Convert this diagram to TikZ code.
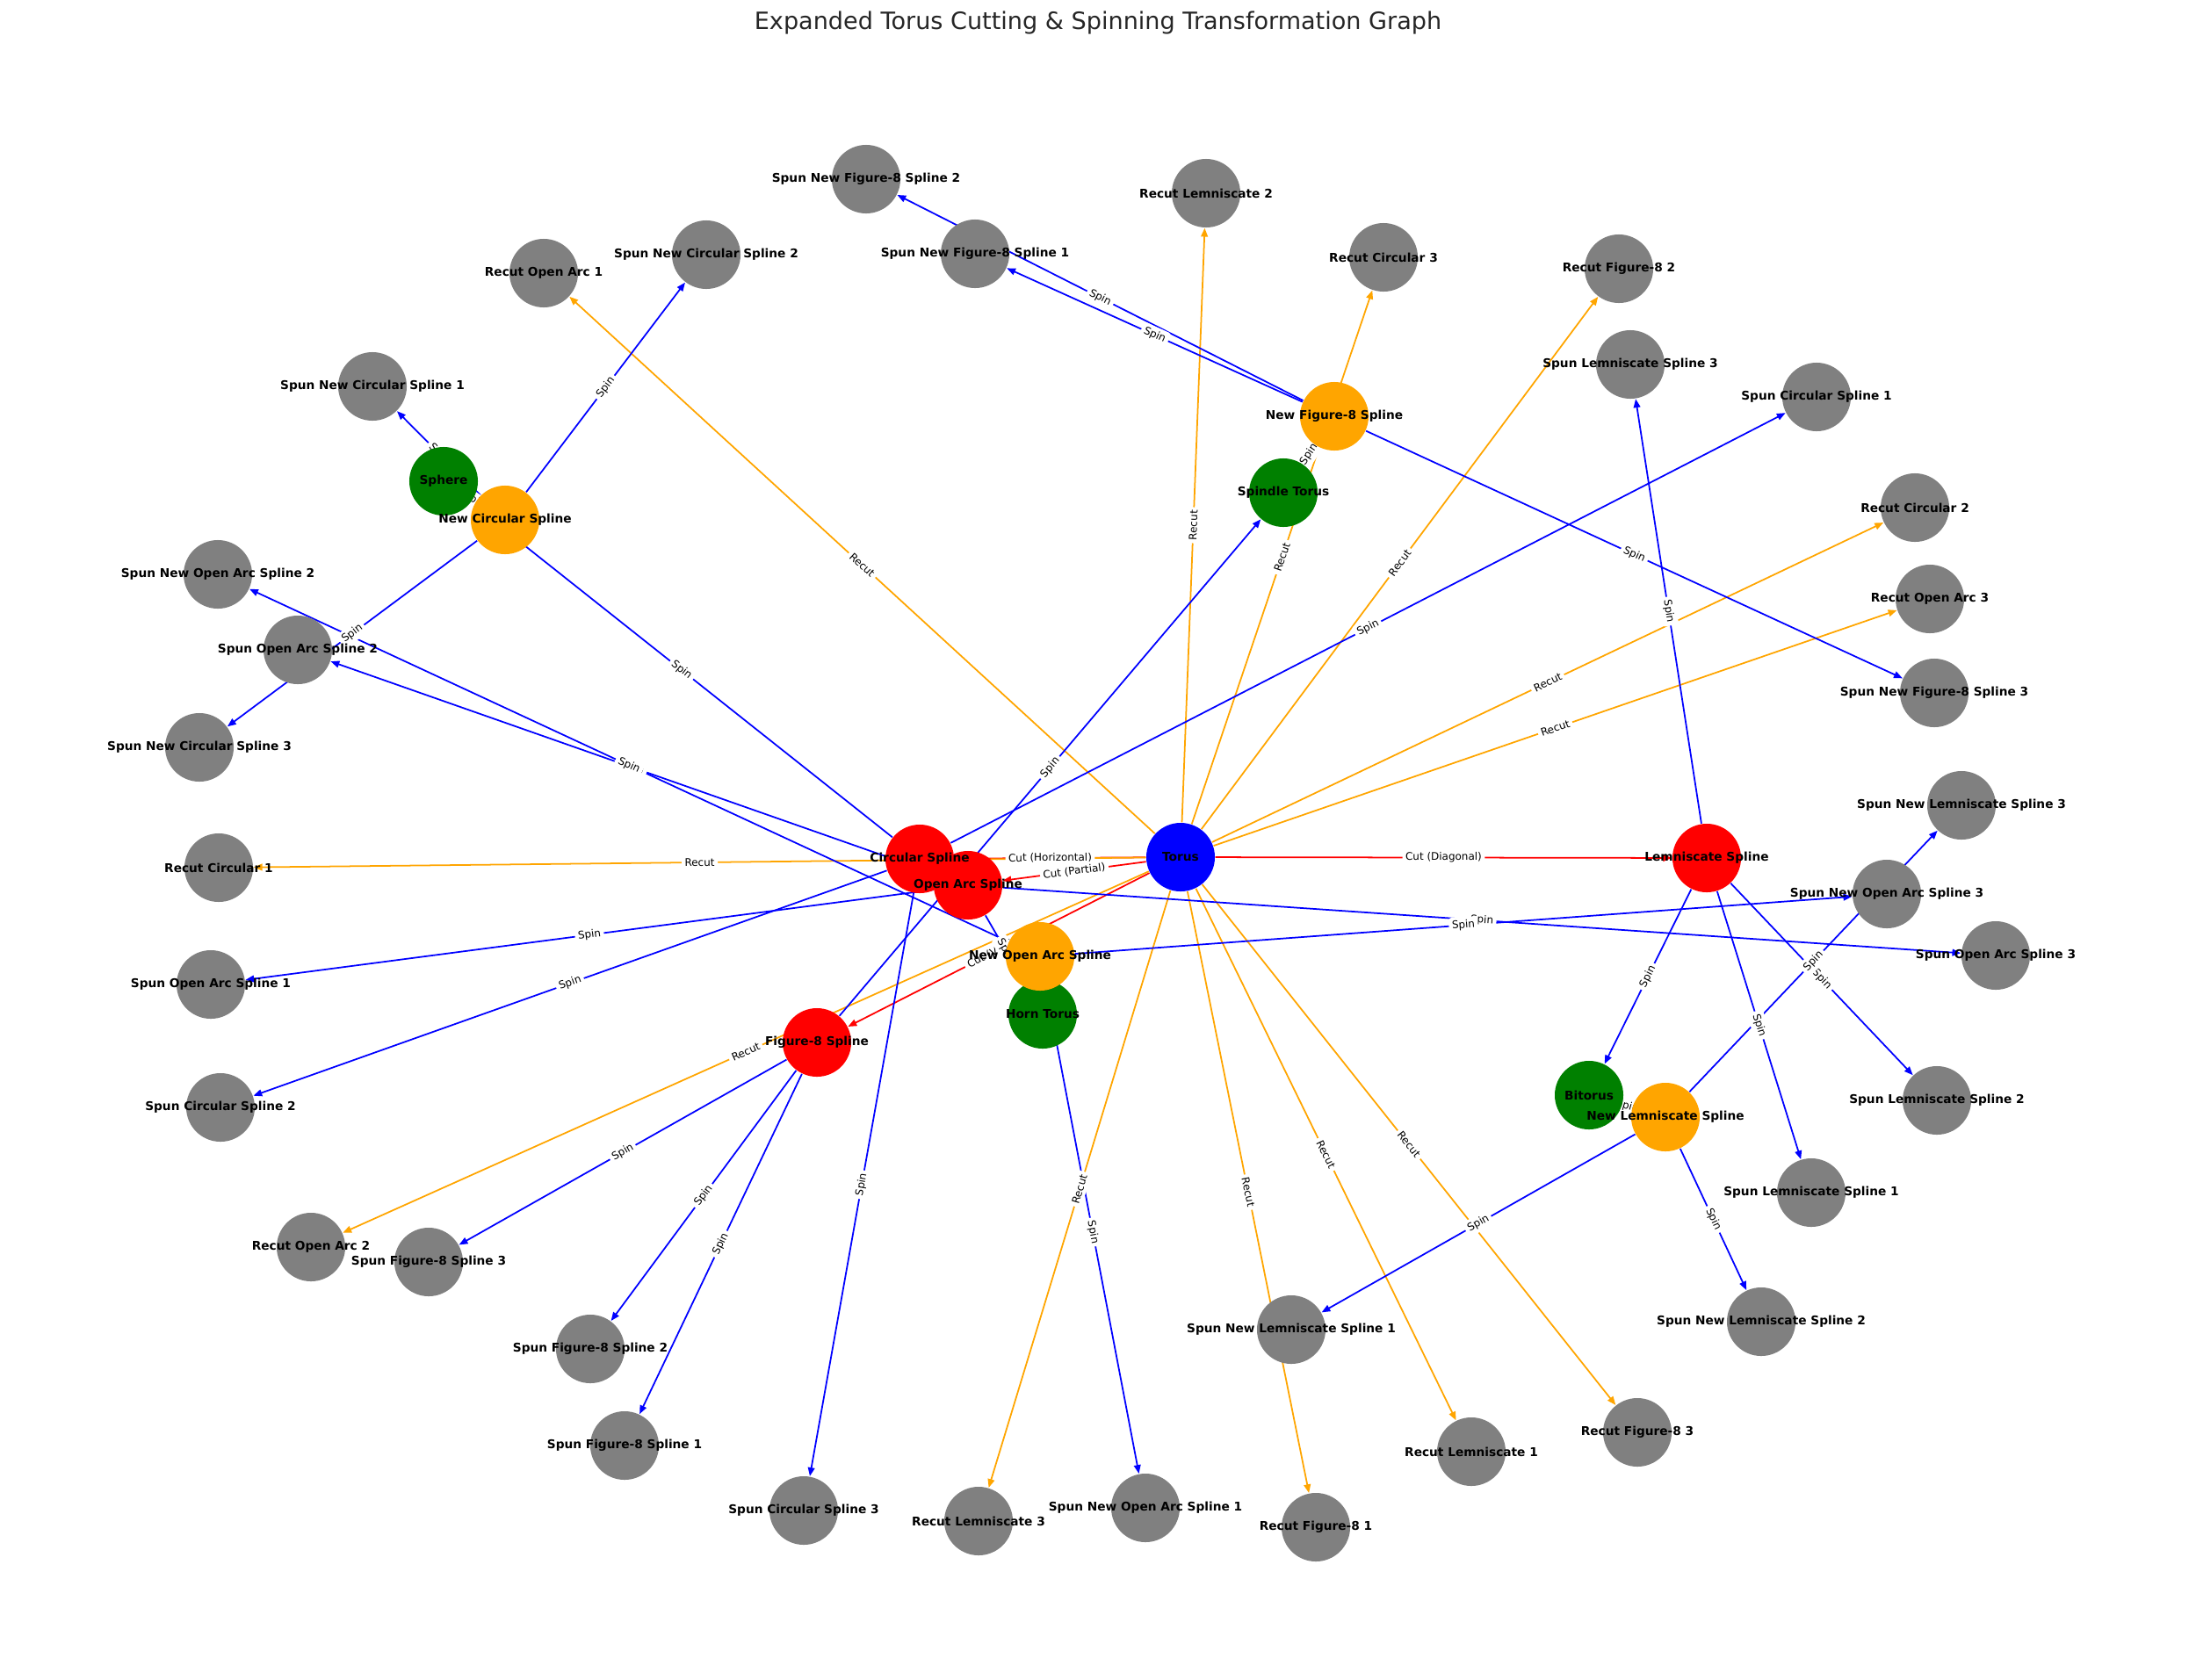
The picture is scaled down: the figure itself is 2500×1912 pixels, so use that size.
\documentclass[tikz,border=0pt]{standalone}
\usepackage{fontspec}
\setmainfont{DejaVu Sans}
\usetikzlibrary{arrows.meta}
\definecolor{mplorange}{RGB}{255,165,0}
\definecolor{mplgreen}{RGB}{0,128,0}
\definecolor{mplgray}{RGB}{128,128,128}
\pgfdeclarelayer{edges}
\pgfdeclarelayer{elabels}
\pgfdeclarelayer{front}
\pgfsetlayers{edges,elabels,main,front}
\begin{document}
\begin{tikzpicture}[x=0.01cm,y=-0.01cm]
        % Styles
        \tikzstyle{vertex}=[circle,minimum size=0.78cm,inner sep=0pt]
        \tikzstyle{vertex text}=[inner sep=0pt,font=\fontsize{3.9}{4.7}\selectfont\bfseries]
        \tikzstyle{edge text}=[midway,sloped,fill=white,rounded corners=0.8pt,inner sep=1pt,font=\fontsize{3.4}{4}\selectfont]
        \tikzstyle{tip}=[-{Triangle[length=2.8pt,width=2.2pt]},line width=0.5pt]
        \tikzstyle{cut line}=[tip,red]
        \tikzstyle{recut line}=[tip,mplorange]
        \tikzstyle{spin line}=[tip,blue]
        \useasboundingbox (0,0) rectangle (2500,1912);
        %title
        \node[anchor=base,text=black!85,font=\fontsize{7.7}{9}\selectfont] (title) at (1250,33)
            {Expanded Torus Cutting \& Spinning Transformation Graph};
        %nodes
        \foreach \n/\x/\y/\c/\t in {torus/1344/976/blue/Torus,
            circ/1047/978/red/Circular Spline, oarc/1102/1008/red/Open Arc Spline,
            lemn/1943/977/red/Lemniscate Spline, fig8/930/1187/red/Figure-8 Spline,
            sphere/505/548/mplgreen/Sphere, horn/1187/1155/mplgreen/Horn Torus,
            spindle/1461/561/mplgreen/Spindle Torus, bitorus/1809/1247/mplgreen/Bitorus,
            ncirc/575/592/mplorange/New Circular Spline, noarc/1184/1089/mplorange/New Open Arc Spline,
            nfig8/1519/474/mplorange/New Figure-8 Spline, nlemn/1896/1272/mplorange/New Lemniscate Spline,
            rc1/249/988/mplgray/Recut Circular 1, rc2/2180/578/mplgray/Recut Circular 2,
            rc3/1575/293/mplgray/Recut Circular 3, roa1/619/311/mplgray/Recut Open Arc 1,
            roa2/354/1420/mplgray/Recut Open Arc 2, roa3/2197/682/mplgray/Recut Open Arc 3,
            rf1/1498/1739/mplgray/Recut Figure-8 1, rf2/1843/306/mplgray/Recut Figure-8 2,
            rf3/1864/1631/mplgray/Recut Figure-8 3, rl1/1675/1653/mplgray/Recut Lemniscate 1,
            rl2/1373/220/mplgray/Recut Lemniscate 2, rl3/1114/1732/mplgray/Recut Lemniscate 3,
            sc1/2068/452/mplgray/Spun Circular Spline 1, sc2/251/1261/mplgray/Spun Circular Spline 2,
            sc3/915/1720/mplgray/Spun Circular Spline 3, soa1/240/1121/mplgray/Spun Open Arc Spline 1,
            soa2/339/740/mplgray/Spun Open Arc Spline 2, soa3/2272/1088/mplgray/Spun Open Arc Spline 3,
            sf1/711/1646/mplgray/Spun Figure-8 Spline 1, sf2/672/1536/mplgray/Spun Figure-8 Spline 2,
            sf3/488/1437/mplgray/Spun Figure-8 Spline 3, sl1/2062/1358/mplgray/Spun Lemniscate Spline 1,
            sl2/2205/1253/mplgray/Spun Lemniscate Spline 2, sl3/1856/415/mplgray/Spun Lemniscate Spline 3,
            snc1/424/440/mplgray/Spun New Circular Spline 1, snc2/804/290/mplgray/Spun New Circular Spline 2,
            snc3/227/851/mplgray/Spun New Circular Spline 3, snoa1/1304/1717/mplgray/Spun New Open Arc Spline 1,
            snoa2/248/654/mplgray/Spun New Open Arc Spline 2, snoa3/2148/1018/mplgray/Spun New Open Arc Spline 3,
            snf1/1110/289/mplgray/Spun New Figure-8 Spline 1, snf2/986/204/mplgray/Spun New Figure-8 Spline 2,
            snf3/2202/789/mplgray/Spun New Figure-8 Spline 3, snl1/1470/1514/mplgray/Spun New Lemniscate Spline 1,
            snl2/2005/1505/mplgray/Spun New Lemniscate Spline 2, snl3/2233/917/mplgray/Spun New Lemniscate Spline 3}
        {
            \node[vertex,fill=\c] (\n) at (\x,\y) {};
            \begin{pgfonlayer}{front}
                \node[vertex text] at (\n) {\t};
            \end{pgfonlayer}
        }
        %cuts
        \foreach \a/\b/\t in {torus/circ/Cut (Horizontal), torus/oarc/Cut (Partial),
            torus/lemn/Cut (Diagonal), torus/fig8/Cut (Vertical)}
        {
            \begin{pgfonlayer}{edges} \draw[cut line] (\a) -- (\b); \end{pgfonlayer}
            \begin{pgfonlayer}{elabels} \path (\a) -- (\b) node[edge text] {\t}; \end{pgfonlayer}
        }
        %recuts
        \foreach \b in {rc1,rc2,rc3,roa1,roa2,roa3,rf1,rf2,rf3,rl1,rl2,rl3}
        {
            \begin{pgfonlayer}{edges} \draw[recut line] (torus) -- (\b); \end{pgfonlayer}
            \begin{pgfonlayer}{elabels} \path (torus) -- (\b) node[edge text] {Recut}; \end{pgfonlayer}
        }
        %spins
        \foreach \a/\b in {circ/sc1, circ/sc2, circ/sc3, circ/sphere,
            oarc/soa1, oarc/soa2, oarc/soa3, oarc/horn,
            fig8/sf1, fig8/sf2, fig8/sf3, fig8/spindle,
            lemn/sl1, lemn/sl2, lemn/sl3, lemn/bitorus,
            sphere/ncirc, horn/noarc, spindle/nfig8, bitorus/nlemn,
            ncirc/snc1, ncirc/snc2, ncirc/snc3, noarc/snoa1, noarc/snoa2, noarc/snoa3,
            nfig8/snf1, nfig8/snf2, nfig8/snf3, nlemn/snl1, nlemn/snl2, nlemn/snl3}
        {
            \begin{pgfonlayer}{edges} \draw[spin line] (\a) -- (\b); \end{pgfonlayer}
            \begin{pgfonlayer}{elabels} \path (\a) -- (\b) node[edge text] {Spin}; \end{pgfonlayer}
        }
\end{tikzpicture}
\end{document}
